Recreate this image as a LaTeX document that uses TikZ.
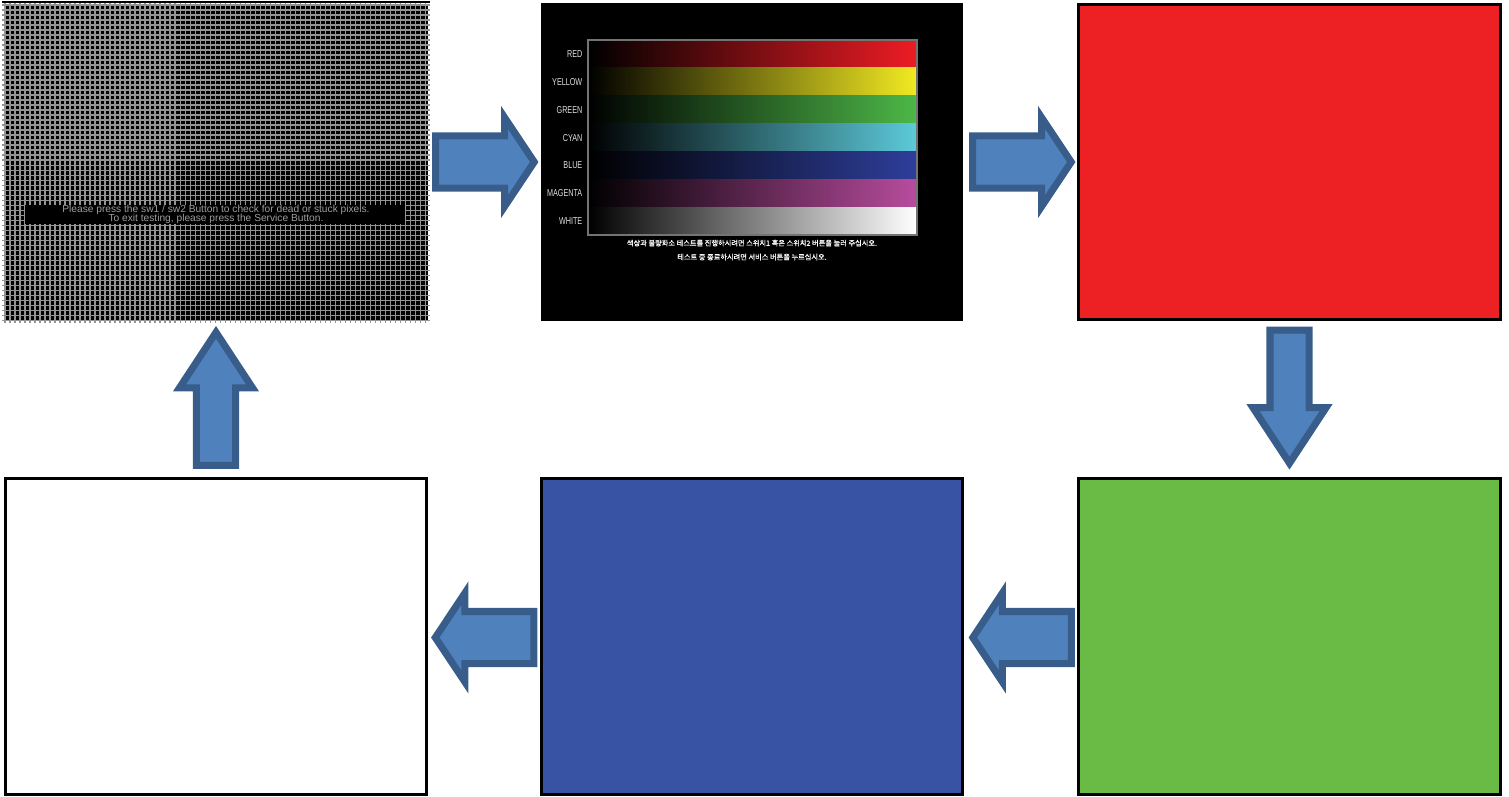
\documentclass[tikz,border=0pt]{standalone}
\usepackage{fontspec}
\setmainfont{Liberation Sans}
\newfontfamily\krfont[FakeBold=0.8]{Noto Sans CJK KR}
\newfontfamily\narrowfont[FakeStretch=0.72]{Liberation Sans}
\usetikzlibrary{shapes.arrows}
\definecolor{arrowfill}{HTML}{4F81BD}
\definecolor{arrowline}{HTML}{385D8A}
\definecolor{screenred}{HTML}{ED2024}
\definecolor{screengreen}{HTML}{6ABB45}
\definecolor{screenblue}{HTML}{3953A4}
\definecolor{barred}{HTML}{EE1C24}
\definecolor{baryellow}{HTML}{F2EA22}
\definecolor{bargreen}{HTML}{4DB848}
\definecolor{barcyan}{HTML}{5CCADA}
\definecolor{barblue}{HTML}{2E3E9A}
\definecolor{barmagenta}{HTML}{B84C9E}

\begin{document}
\begin{tikzpicture}[x=0.01cm,y=-0.01cm]
  \tikzset{screen/.style = {shape=rectangle,draw=black,line width=0.85pt,minimum width=4.21cm,minimum height=3.15cm,inner sep=0pt}}
  \tikzset{blockarrow/.style = {shape=single arrow,draw=arrowline,fill=arrowfill,line width=2pt,inner sep=0pt,anchor=tail}}
  \tikzset{wide/.style = {blockarrow,minimum height=0.985cm,inner ysep=0.225cm,single arrow head extend=0.185cm,single arrow tip angle=112.7}}
  \tikzset{tall/.style = {blockarrow,minimum height=1.33cm,inner ysep=0.16cm,single arrow head extend=0.17cm,single arrow tip angle=66.7}}
  \tikzset{msgtext/.style = {inner sep=0pt,text=white!62!black,font=\fontsize{2.9}{3.2}\selectfont}}
  \tikzset{barlabel/.style = {inner sep=0pt,anchor=east,text=white!88!black,font=\narrowfont\fontsize{2.85}{3.2}\selectfont}}
  \tikzset{krtext/.style = {inner sep=0pt,text=white,font=\krfont\fontsize{2.05}{2.4}\selectfont}}

  \useasboundingbox (0,0) rectangle (1509,796);

	\node[screen,draw=none,fill=black,minimum width=4.24cm,minimum height=3.17cm] (pixels) at (216,162.5) {};
	\node[screen,draw=none,fill=black,minimum width=4.22cm,minimum height=3.18cm] (bars) at (752,162) {};
	\node[screen,fill=screenred] (redscreen) at (1289.5,162) {};
	\node[screen,fill=screengreen] (greenscreen) at (1289.5,636.5) {};
	\node[screen,fill=screenblue] (bluescreen) at (752,636.5) {};
	\node[screen,fill=white] (whitescreen) at (216,636.5) {};

	% dead pixel test screen
	\draw[white!58!black,line width=0.35pt,step=0.05cm] (pixels.south west) grid (pixels.north east);
	\draw[black,line width=0.6pt] (pixels.north west) -- (pixels.north east);
	\node[fill=black,minimum width=3.8cm,minimum height=0.19cm,inner sep=0pt] (msgbar) at (215,214) {};
	\node[msgtext] (msgone) at (216,210) {Please press the sw1 / sw2 Button to check for dead or stuck pixels.};
	\node[msgtext] (msgtwo) at (216,218.5) {To exit testing, please press the Service Button.};

	% colour bars
	\foreach \name/\col [count=\i from 0] in {RED/barred, YELLOW/baryellow, GREEN/bargreen, CYAN/barcyan, BLUE/barblue, MAGENTA/barmagenta, WHITE/white} {
	  \pgfmathsetmacro\bandtop{40+27.86*\i}
	  \shade[left color=black,right color=\col] (588,\bandtop) rectangle (917,\bandtop+27.86);
	  \node[barlabel] (label\i) at (583,\bandtop+14) {\name};
	}
	\draw[white!45!black,line width=0.4pt] (588,40) rectangle (917,235);
	\node[krtext] (krone) at (752,243) {색상과 불량화소 테스트를 진행하시려면 스위치1 혹은 스위치2 버튼을 눌러 주십시오.};
	\node[krtext] (krtwo) at (752,257) {테스트 중 종료하시려면 서비스 버튼을 누르십시오.};

	\node[wide] (toBars) at ([xshift=0.025cm,yshift=0.005cm]pixels.east) {};
	\node[wide] (toRed) at ([xshift=0.045cm]bars.east) {};
	\node[tall,rotate=-90] (toGreen) at ([yshift=-0.055cm]redscreen.south) {};
	\node[wide,rotate=180] (toBlue) at ([xshift=-0.025cm,yshift=-0.01cm]greenscreen.west) {};
	\node[wide,rotate=180] (toWhite) at ([xshift=-0.025cm,yshift=-0.01cm]bluescreen.west) {};
	\node[tall,rotate=90] (toPixels) at ([yshift=0.085cm]whitescreen.north) {};

\end{tikzpicture}
\end{document}
